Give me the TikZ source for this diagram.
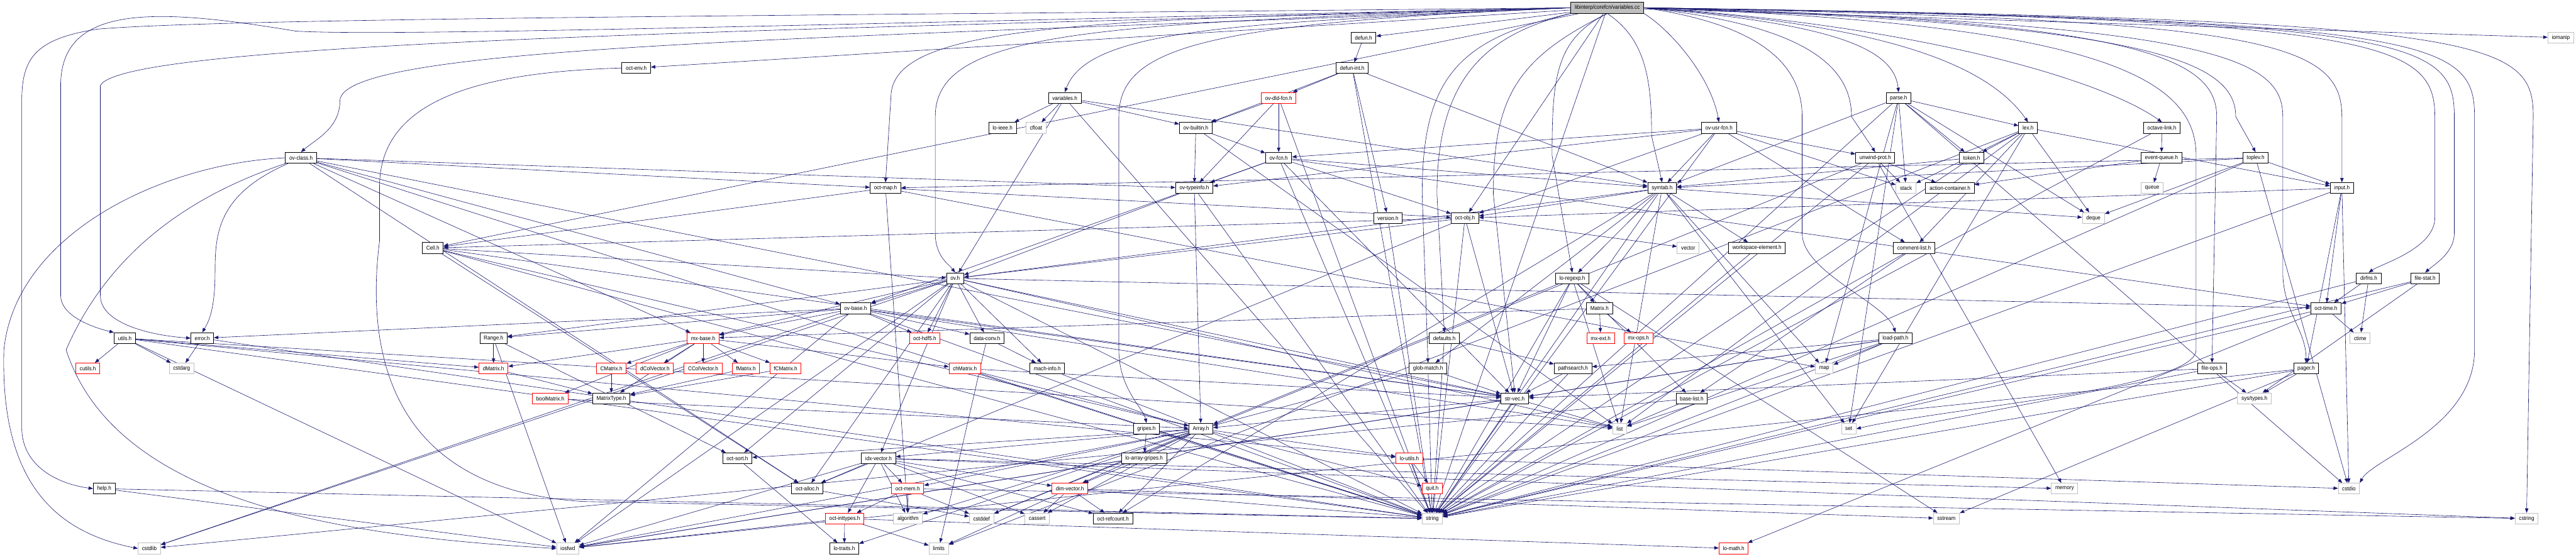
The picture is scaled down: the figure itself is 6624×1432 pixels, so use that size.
\documentclass[tikz,border=0pt]{standalone}
\usepackage{fontspec}
\setmainfont[FakeStretch=0.92]{Liberation Sans}
\usetikzlibrary{arrows.meta}
\definecolor{edgeblue}{HTML}{191970}
\definecolor{lgray}{HTML}{BFBFBF}
\pgfdeclarelayer{back}
\pgfdeclarelayer{edges}
\pgfsetlayers{back,edges,main}
\begin{document}
\begin{tikzpicture}[x=0.02cm,y=-0.02cm,
  nd/.style={draw=black,line width=0.9pt,fill=white,minimum height=0.56cm,inner xsep=0.2cm,inner ysep=0pt,font=\fontsize{8.2}{9}\selectfont},
  rn/.style={nd,draw=red},
  gn/.style={nd,draw=lgray},
  rootbox/.style={nd,fill=lgray},
  ed/.style={draw=edgeblue,line width=0.55pt,-{Triangle[length=6.5pt,width=5pt]}}]
\useasboundingbox (0,0) rectangle (6624,1432);
\begin{pgfonlayer}{back}
\fill[white] (0,0) rectangle (6624,1432);
\end{pgfonlayer}
% ---------- nodes ----------
\node[rootbox] (root) at (4133,20) {libinterp/corefcn/variables.cc};
\node[nd] (defun) at (3506,97) {defun.h};
\node[gn] (iomanip) at (6585,97) {iomanip};
\node[nd] (octenv) at (1636,175) {oct-env.h};
\node[nd] (defunint) at (3477,175) {defun-int.h};
\node[nd] (variablesh) at (2738,252) {variables.h};
\node[rn] (ovdld) at (3288,252) {ov-dld-fcn.h};
\node[nd] (parse) at (4882,252) {parse.h};
\node[nd] (loieee) at (2578,329) {lo-ieee.h};
\node[gn] (cfloat) at (2664,329) {cfloat};
\node[nd] (ovbuiltin) at (3075,329) {ov-builtin.h};
\node[nd] (ovusr) at (4420,329) {ov-usr-fcn.h};
\node[nd] (lex) at (5215,329) {lex.h};
\node[nd] (octlink) at (5559,329) {octave-link.h};
\node[nd] (ovclass) at (774,406) {ov-class.h};
\node[nd] (ovfcn) at (3288,406) {ov-fcn.h};
\node[nd] (unwind) at (4822,406) {unwind-prot.h};
\node[nd] (token) at (5070,406) {token.h};
\node[nd] (evq) at (5558,406) {event-queue.h};
\node[nd] (toplev) at (5800,406) {toplev.h};
\node[nd] (octmap) at (2277,484) {oct-map.h};
\node[nd] (ovtypeinfo) at (3071,484) {ov-typeinfo.h};
\node[nd] (symtab) at (4274,484) {symtab.h};
\node[gn] (stack) at (4901,484) {stack};
\node[nd] (actcont) at (5014,484) {action-container.h};
\node[gn] (queue) at (5534,484) {queue};
\node[nd] (input) at (6022,484) {input.h};
\node[nd] (version) at (3569,561) {version.h};
\node[nd] (octobj) at (3767,561) {oct-obj.h};
\node[gn] (deque) at (5383,561) {deque};
\node[nd] (cell) at (1113,638) {Cell.h};
\node[gn] (vector) at (4341,638) {vector};
\node[nd] (wselem) at (4518,638) {workspace-element.h};
\node[nd] (commentlist) at (4922,638) {comment-list.h};
\node[nd] (ovh) at (2456,716) {ov.h};
\node[nd] (loregexp) at (4043,716) {lo-regexp.h};
\node[nd] (dirfns) at (6091,716) {dirfns.h};
\node[nd] (filestat) at (6236,716) {file-stat.h};
\node[nd] (ovbase) at (2200,793) {ov-base.h};
\node[nd] (matrixh) at (4113,793) {Matrix.h};
\node[nd] (octtime) at (5981,793) {oct-time.h};
\node[nd] (utils) at (321,870) {utils.h};
\node[nd] (error) at (520,870) {error.h};
\node[nd] (range) at (1269,870) {Range.h};
\node[rn] (mxbase) at (1808,870) {mx-base.h};
\node[rn] (octhdf5) at (2378,870) {oct-hdf5.h};
\node[nd] (dataconv) at (2538,870) {data-conv.h};
\node[nd] (defaults) at (3714,870) {defaults.h};
\node[rn] (mxext) at (4116,870) {mx-ext.h};
\node[rn] (mxops) at (4213,870) {mx-ops.h};
\node[nd] (loadpath) at (4874,870) {load-path.h};
\node[gn] (ctime) at (6069,870) {ctime};
\node[rn] (cutils) at (226,948) {cutils.h};
\node[gn] (cstdarg) at (467,948) {cstdarg};
\node[rn] (dmatrix) at (1269,948) {dMatrix.h};
\node[rn] (cmatrix) at (1572,948) {CMatrix.h};
\node[rn] (dcolvec) at (1684,948) {dColVector.h};
\node[rn] (ccolvec) at (1808,948) {CColVector.h};
\node[rn] (fmatrix) at (1918,948) {fMatrix.h};
\node[rn] (fcmatrix) at (2020,948) {fCMatrix.h};
\node[rn] (chmatrix) at (2481,948) {chMatrix.h};
\node[nd] (machinfo) at (2693,948) {mach-info.h};
\node[nd] (globmatch) at (3672,948) {glob-match.h};
\node[nd] (pathsearch) at (4045,948) {pathsearch.h};
\node[gn] (map) at (4691,948) {map};
\node[nd] (fileops) at (5688,948) {file-ops.h};
\node[nd] (pager) at (5930,948) {pager.h};
\node[rn] (boolmatrix) at (1415,1025) {boolMatrix.h};
\node[nd] (matrixtype) at (1572,1025) {MatrixType.h};
\node[nd] (strvec) at (3895,1025) {str-vec.h};
\node[nd] (baselist) at (4350,1025) {base-list.h};
\node[gn] (systypes) at (5797,1025) {sys/types.h};
\node[nd] (gripes) at (2948,1103) {gripes.h};
\node[nd] (array) at (3088,1103) {Array.h};
\node[gn] (list) at (4165,1103) {list};
\node[gn] (set) at (4754,1103) {set};
\node[nd] (octsort) at (1896,1179) {oct-sort.h};
\node[nd] (idxvec) at (2259,1179) {idx-vector.h};
\node[nd] (loarrg) at (2942,1179) {lo-array-gripes.h};
\node[rn] (loutils) at (3624,1179) {lo-utils.h};
\node[nd] (help) at (268,1257) {help.h};
\node[nd] (octalloc) at (2076,1257) {oct-alloc.h};
\node[rn] (octmem) at (2334,1257) {oct-mem.h};
\node[rn] (dimvec) at (2751,1257) {dim-vector.h};
\node[rn] (quit) at (3683,1257) {quit.h};
\node[gn] (memory) at (5309,1257) {memory};
\node[gn] (cstdio) at (6040,1257) {cstdio};
\node[rn] (octint) at (2172,1334) {oct-inttypes.h};
\node[gn] (algorithm) at (2335,1334) {algorithm};
\node[gn] (cstddef) at (2524,1334) {cstddef};
\node[gn] (cassert) at (2667,1334) {cassert};
\node[nd] (refcount) at (2862,1334) {oct-refcount.h};
\node[gn] (string) at (3683,1334) {string};
\node[gn] (sstream) at (5005,1334) {sstream};
\node[gn] (cstring) at (6497,1334) {cstring};
\node[gn] (cstdlib) at (384,1411) {cstdlib};
\node[gn] (iosfwd) at (1460,1411) {iosfwd};
\node[nd] (lotraits) at (2171,1411) {lo-traits.h};
\node[gn] (limits) at (2414,1411) {limits};
\node[rn] (lomath) at (4458,1411) {lo-math.h};
% ---------- edges ----------
\begin{pgfonlayer}{edges}
% root, routed to the left
\draw[ed] (root.west) .. controls (2200,40) and (600,45) .. (250,75) .. controls (90,100) and (56,150) .. (56,260) -- (56,1100) .. controls (56,1200) and (150,1245) .. (help.west);
\draw[ed] (root.west) .. controls (2200,60) and (1000,95) .. (760,80) .. controls (400,20) and (156,10) .. (156,220) -- (156,760) .. controls (156,810) and (230,840) .. (utils.north west);
\draw[ed] (root.west) .. controls (2200,75) and (320,100) .. (258,220) -- (258,760) .. controls (258,830) and (380,862) .. (error.west);
\draw[ed] (root.west) .. controls (2200,100) and (874,110) .. (874,260) .. controls (874,330) and (810,360) .. (ovclass.north);
\draw[ed] (root.west) .. controls (3200,60) and (2800,70) .. (variablesh.north);
\draw[ed] (root.west) .. controls (2800,50) and (2291,60) .. (2291,250) -- (octmap.north);
\draw[ed] (root.west) .. controls (2800,60) and (2405,80) .. (2405,300) -- (2405,600) .. controls (2405,660) and (2440,680) .. (ovh.north);
\draw[ed] (root.west) .. controls (3100,60) and (2877,120) .. (2877,300) -- (2877,900) .. controls (2877,1000) and (2940,1050) .. (gripes.north);
\draw[ed] (root.south west) .. controls (3750,100) and (3657,200) .. (3657,500) -- (globmatch.north);
\draw[ed] (root.south west) .. controls (3820,90) and (3695,200) .. (3695,500) -- (defaults.north);
\draw[ed] (root.south) .. controls (3900,150) and (3840,250) .. (3840,500) -- (strvec.north);
\draw[ed] (root.south) .. controls (4000,100) and (3991,200) .. (3991,400) -- (loregexp.north);
\draw[ed] (root.south) .. controls (4230,100) and (4247,200) .. (4247,350) -- (symtab.north);
\draw[ed] (root) -- (defun);
\draw[ed] (root) -- (octenv);
\draw[ed] (root) -- (cell);
\draw[ed] (root) -- (octobj);
\draw[ed] (root) -- (string);
\draw[ed] (root) -- (iomanip);
% root, routed to the right
\draw[ed] (root.south east) .. controls (4300,80) and (4400,200) .. (ovusr.north);
\draw[ed] (root.east) .. controls (4500,60) and (4634,150) .. (4634,300) -- (4634,600) .. controls (4634,700) and (4850,780) .. (loadpath.north);
\draw[ed] (root.east) .. controls (4600,60) and (4761,150) .. (4761,300) -- (unwind.north);
\draw[ed] (root.east) .. controls (4700,60) and (4870,120) .. (parse.north);
\draw[ed] (root.east) .. controls (4800,60) and (5100,150) .. (lex.north);
\draw[ed] (root.east) .. controls (4900,60) and (5400,200) .. (octlink.north);
\draw[ed] (root.east) .. controls (5400,60) and (5647,200) .. (5647,400) -- (5647,900) .. controls (5647,1000) and (5000,1050) .. (set.east);
\draw[ed] (root.east) .. controls (5500,60) and (5749,150) .. (5749,300) -- (toplev.north);
\draw[ed] (root.east) .. controls (5500,50) and (5700,150) .. (5700,300) -- (fileops.north);
\draw[ed] (root.east) .. controls (5700,60) and (5870,150) .. (5870,300) -- (5870,700) .. controls (5870,800) and (5930,850) .. (pager.north);
\draw[ed] (root.east) .. controls (5800,50) and (6022,100) .. (6022,300) -- (input.north);
\draw[ed] (root.east) .. controls (6100,50) and (6261,100) .. (6261,300) -- (6261,560) .. controls (6261,640) and (6120,680) .. (dirfns.north);
\draw[ed] (root.east) .. controls (6200,50) and (6311,100) .. (6311,300) -- (6311,600) .. controls (6311,650) and (6260,680) .. (filestat.north);
\draw[ed] (root.east) .. controls (6250,50) and (6363,100) .. (6363,300) -- (6363,900) .. controls (6363,1100) and (6100,1180) .. (cstdio.north east);
\draw[ed] (root.east) .. controls (6400,50) and (6514,100) .. (6514,300) -- (cstring.north);
% routed others
\draw[ed] (ovclass.west) .. controls (420,420) and (40,600) .. (10,900) .. controls (0,1250) and (150,1370) .. (cstdlib.west);
\draw[ed] (ovclass.south west) .. controls (560,480) and (300,600) .. (170,900) .. controls (300,1300) and (900,1380) .. (iosfwd.west);
\draw[ed] (ovclass) .. controls (560,500) and (553,600) .. (553,700) .. controls (553,800) and (535,830) .. (error.north);
\draw[ed] (octenv.west) .. controls (1250,185) and (976,250) .. (976,480) -- (976,620) .. controls (940,900) and (1000,1260) .. (1500,1290) -- (string.west);
% straight edges
\foreach \a/\b in {defun/defunint,
 defunint/ovbuiltin, defunint/ovdld, defunint/symtab, defunint/version, defunint/string,
 variablesh/loieee, variablesh/cfloat, variablesh/ovbuiltin, variablesh/ovh, variablesh/symtab, variablesh/string,
 ovdld/ovbuiltin, ovdld/ovfcn, ovdld/ovtypeinfo, ovdld/string,
 ovbuiltin/ovfcn, ovbuiltin/ovtypeinfo, ovbuiltin/list,
 ovfcn/ovtypeinfo, ovfcn/octtime, ovfcn/strvec, ovfcn/octobj, ovfcn/ovbase, ovfcn/symtab, ovfcn/string,
 ovtypeinfo/ovh, ovtypeinfo/array, ovtypeinfo/string,
 ovusr/ovfcn, ovusr/ovtypeinfo, ovusr/symtab, ovusr/octobj, ovusr/unwind, ovusr/stack, ovusr/commentlist, ovusr/string,
 ovclass/string, ovclass/mxbase, ovclass/strvec, ovclass/octalloc, ovclass/octmap, ovclass/ovbase, ovclass/ovtypeinfo,
 octmap/cell, octmap/octobj, octmap/algorithm, octmap/map,
 cell/array, cell/octalloc, cell/strvec, cell/ovh, cell/string,
 ovh/cstdlib, ovh/iosfwd, ovh/string, ovh/list, ovh/range, ovh/dataconv, ovh/idxvec, ovh/machinfo, ovh/mxbase, ovh/octalloc, ovh/octtime, ovh/strvec, ovh/octhdf5, ovh/octsort, ovh/ovbase,
 ovbase/cstdlib, ovbase/iosfwd, ovbase/list, ovbase/string, ovbase/range, ovbase/dataconv, ovbase/mxbase, ovbase/strvec, ovbase/error, ovbase/octhdf5,
 range/iosfwd, range/dmatrix, range/octsort,
 mxbase/matrixtype, mxbase/boolmatrix, mxbase/chmatrix, mxbase/dmatrix, mxbase/cmatrix, mxbase/fmatrix, mxbase/fcmatrix, mxbase/dcolvec, mxbase/ccolvec,
 dmatrix/matrixtype, cmatrix/matrixtype, fmatrix/matrixtype, fcmatrix/matrixtype,
 boolmatrix/array, chmatrix/array, chmatrix/string, chmatrix/strvec,
 dataconv/limits, dataconv/machinfo, machinfo/string,
 idxvec/cassert, idxvec/cstring, idxvec/algorithm, idxvec/iosfwd, idxvec/memory, idxvec/dimvec, idxvec/octint, idxvec/octalloc, idxvec/octmem, idxvec/refcount,
 array/cassert, array/cstddef, array/algorithm, array/iosfwd, array/dimvec, array/idxvec, array/lotraits, array/loutils, array/octsort, array/quit, array/octmem, array/refcount,
 gripes/loarrg, gripes/string, loarrg/dimvec,
 dimvec/cassert, dimvec/limits, dimvec/refcount, dimvec/sstream, dimvec/string,
 octmem/cstddef, octmem/cstring, octmem/algorithm, octmem/octint,
 octint/lotraits, octint/limits, octint/iosfwd, octint/lomath,
 octsort/lotraits, octalloc/cstddef,
 octobj/string, octobj/vector, octobj/octalloc, octobj/strvec, octobj/cell, octobj/ovh,
 symtab/deque, symtab/list, symtab/map, symtab/set, symtab/string, symtab/globmatch, symtab/loregexp, symtab/octobj, symtab/wselem, symtab/refcount, symtab/ovh,
 unwind/cstddef, unwind/string, unwind/stack, unwind/memory, unwind/actcont,
 parse/cstdio, parse/string, parse/map, parse/set, parse/deque, parse/lex, parse/token, parse/symtab, parse/stack,
 lex/deque, lex/limits, lex/list, lex/set, lex/stack, lex/commentlist, lex/input, lex/token,
 token/string, token/symtab, commentlist/string, commentlist/baselist,
 baselist/list, baselist/cstdlib, wselem/string,
 octlink/string, octlink/evq, evq/queue, evq/actcont,
 toplev/cstdio, toplev/deque, toplev/string, toplev/input, toplev/octmap, toplev/symtab,
 input/cstdio, input/string, input/octtime, input/octobj, input/pager,
 dirfns/ctime, dirfns/octtime, dirfns/string,
 filestat/octtime, filestat/systypes, filestat/string,
 octtime/ctime, octtime/string, octtime/lomath,
 fileops/systypes, fileops/string, fileops/strvec,
 pager/systypes, pager/iosfwd, pager/sstream, pager/string,
 loadpath/iosfwd, loadpath/list, loadpath/map, loadpath/string, loadpath/pathsearch, loadpath/strvec,
 defaults/string, defaults/pathsearch, pathsearch/string, pathsearch/strvec,
 globmatch/string, globmatch/strvec, globmatch/array,
 strvec/iosfwd, strvec/list, strvec/string, strvec/array,
 loregexp/list, loregexp/sstream, loregexp/string, loregexp/array, loregexp/matrixh, loregexp/baselist, loregexp/strvec,
 matrixh/mxext, matrixh/mxops, matrixh/mxbase,
 loutils/quit, loutils/string, loutils/cstdio,
 utils/cutils, utils/cstdarg, utils/iosfwd, utils/string, utils/list, utils/loutils, utils/dmatrix,
 error/cstdarg, error/string, help/iosfwd, help/string, version/string}
 \draw[ed] (\a) -- (\b);
\end{pgfonlayer}
\end{tikzpicture}
\end{document}
